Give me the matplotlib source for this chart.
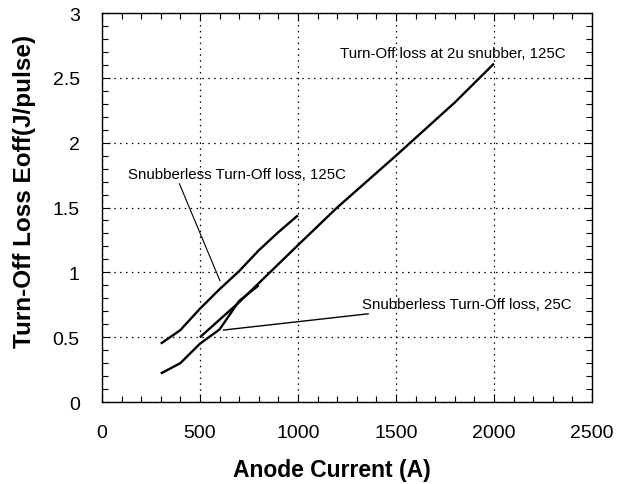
import numpy as np
import matplotlib
matplotlib.use('Agg')
import matplotlib.pyplot as plt
from matplotlib.ticker import MultipleLocator

plt.rcParams['font.family'] = ['Liberation Sans', 'DejaVu Sans']

# data
x_125 = [300, 400, 500, 600, 700, 800, 900, 1000]
y_125 = [0.45, 0.555, 0.72, 0.87, 1.01, 1.17, 1.31, 1.44]

x_25 = [300, 400, 500, 600, 700, 800]
y_25 = [0.22, 0.30, 0.45, 0.56, 0.78, 0.90]

x_2u = [500, 700, 1000, 1200, 1500, 1800, 2000]
y_2u = [0.50, 0.77, 1.21, 1.50, 1.90, 2.31, 2.61]

x_ticks = [0, 500, 1000, 1500, 2000, 2500]
y_ticks = [0, 0.5, 1, 1.5, 2, 2.5, 3]
y_ticklabels = ['0', '0.5', '1', '1.5', '2', '2.5', '3']

fig = plt.figure(figsize=(6.39, 4.85), dpi=100)
ax = fig.add_axes([0.1596, 0.169, 0.7668, 0.8021])

lw = 1.7
ax.plot(x_125, y_125, color='black', lw=lw, solid_capstyle='butt')
ax.plot(x_25, y_25, color='black', lw=lw, solid_capstyle='butt')
ax.plot(x_2u, y_2u, color='black', lw=lw, solid_capstyle='butt')

ax.set_xlim(0, 2500)
ax.set_ylim(0, 3)
ax.set_xticks(x_ticks)
ax.set_yticks(y_ticks)
ax.set_yticklabels(y_ticklabels)
ax.xaxis.set_minor_locator(MultipleLocator(100))
ax.yaxis.set_minor_locator(MultipleLocator(0.1))
ax.tick_params(which='both', direction='in', top=True, right=True,
               color='black', width=0.8)
ax.tick_params(which='major', length=6, labelsize=14, pad=16)
ax.tick_params(which='minor', length=4)
ax.grid(True, which='major', linestyle=(0, (1.2, 3.5)), color='black', lw=0.9)
for sp in ax.spines.values():
    sp.set_linewidth(1.0)

ax.set_xlabel('Anode Current (A)', fontsize=16.5, fontweight='bold')
ax.xaxis.set_label_coords(0.47, -0.145)
ax.set_ylabel('Turn-Off Loss Eoff(J/pulse)', fontsize=17.5, fontweight='bold')
ax.yaxis.set_label_coords(-0.135, 0.545)

# annotations
fs = 10.8
ax.text(1214, 2.69, 'Turn-Off loss at 2u snubber, 125C', fontsize=fs, va='center')
ax.annotate('Snubberless Turn-Off loss, 125C', xy=(602, 0.935), xytext=(133, 1.76),
            fontsize=fs, va='center',
            arrowprops=dict(arrowstyle='-', color='black', lw=0.8,
                            shrinkA=0, shrinkB=0, relpos=(0.23, 0)))
ax.annotate('Snubberless Turn-Off loss, 25C', xy=(619, 0.555), xytext=(1325, 0.756),
            fontsize=fs, va='center',
            arrowprops=dict(arrowstyle='-', color='black', lw=1.0,
                            shrinkA=0, shrinkB=0, relpos=(0.15, 0)))

fig.savefig('out.png', dpi=100)
